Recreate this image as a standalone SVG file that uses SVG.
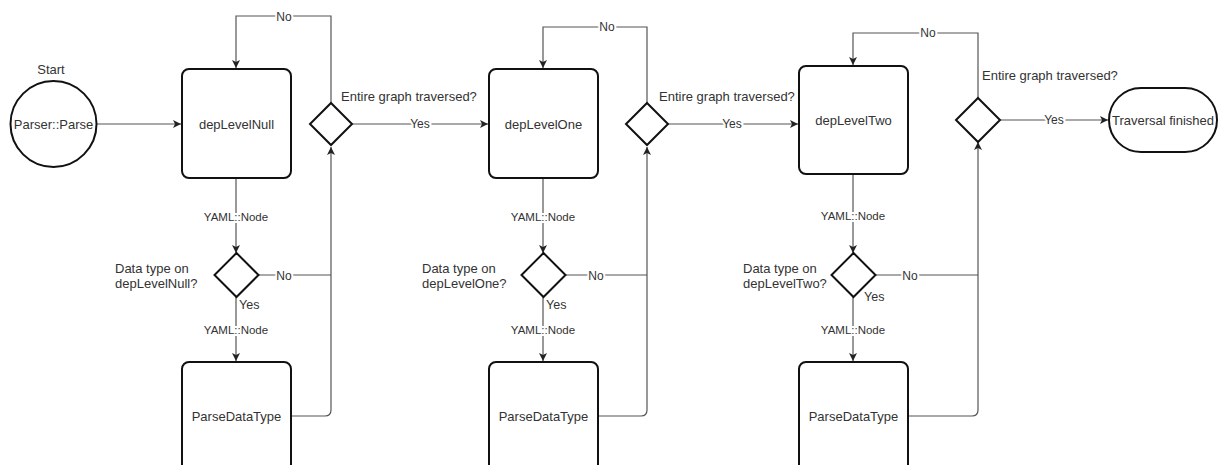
<svg xmlns="http://www.w3.org/2000/svg" width="1219" height="465" viewBox="0 0 1219 465">
<defs>
<marker id="arr" markerWidth="10" markerHeight="10" refX="9" refY="5" orient="auto" markerUnits="userSpaceOnUse">
<path d="M1,1 L9,5 L1,9 L3,5 Z" fill="#222"/>
</marker>
<style>
.shape{fill:#fff;stroke:#111;stroke-width:2}
.edge{fill:none;stroke:#555;stroke-width:1.2}
.t{font-family:"Liberation Sans",Arial,sans-serif;font-size:13px;fill:#333}
.c{text-anchor:middle}
.lbl{font-family:"Liberation Sans",Arial,sans-serif;font-size:12px;fill:#333;text-anchor:middle;paint-order:stroke;stroke:#fff;stroke-width:4px}
.small{font-family:"Liberation Sans",Arial,sans-serif;font-size:11.5px;fill:#333;text-anchor:middle;paint-order:stroke;stroke:#fff;stroke-width:4px}
</style>
</defs>
<rect width="1219" height="465" fill="#fff"/>

<g id="connectors">
<!-- column 1 -->
<path class="edge" d="M97,124 H181" marker-end="url(#arr)"/>
<path class="edge" d="M236,178 V253" marker-end="url(#arr)"/>
<path class="edge" d="M236,297 V361" marker-end="url(#arr)"/>
<path class="edge" d="M258,275 H331"/>
<path class="edge" d="M291,416 H325 Q331,416 331,410 V147" marker-end="url(#arr)"/>
<path class="edge" d="M331,103 V16 H236 V68" marker-end="url(#arr)"/>
<path class="edge" d="M352,124 H488" marker-end="url(#arr)"/>
<!-- column 2 -->
<path class="edge" d="M543,178 V253" marker-end="url(#arr)"/>
<path class="edge" d="M543,297 V361" marker-end="url(#arr)"/>
<path class="edge" d="M565,275 H647"/>
<path class="edge" d="M598,416 H641 Q647,416 647,410 V147" marker-end="url(#arr)"/>
<path class="edge" d="M647,103 V27 H543 V68" marker-end="url(#arr)"/>
<path class="edge" d="M668,124 H798" marker-end="url(#arr)"/>
<!-- column 3 -->
<path class="edge" d="M853,174 V253" marker-end="url(#arr)"/>
<path class="edge" d="M853,297 V361" marker-end="url(#arr)"/>
<path class="edge" d="M875,275 H978"/>
<path class="edge" d="M908,416 H972 Q978,416 978,410 V142" marker-end="url(#arr)"/>
<path class="edge" d="M978,98 V33 H853 V65" marker-end="url(#arr)"/>
<path class="edge" d="M1000,120 H1108" marker-end="url(#arr)"/>

<!-- edge labels -->
<text class="small" x="236" y="221">YAML::Node</text>
<text class="small" x="236" y="334">YAML::Node</text>
<text class="small" x="543" y="221">YAML::Node</text>
<text class="small" x="543" y="334">YAML::Node</text>
<text class="small" x="853" y="220">YAML::Node</text>
<text class="small" x="853" y="334">YAML::Node</text>
<text class="lbl" x="284" y="280">No</text>
<text class="lbl" x="596" y="280">No</text>
<text class="lbl" x="910" y="280">No</text>
<text class="lbl" x="284" y="21">No</text>
<text class="lbl" x="607" y="31">No</text>
<text class="lbl" x="928" y="37">No</text>
<text class="lbl" x="420" y="128">Yes</text>
<text class="lbl" x="732" y="128">Yes</text>
<text class="lbl" x="1054" y="124">Yes</text>
<text class="t" x="239" y="309" style="font-size:12.5px">Yes</text>
<text class="t" x="546" y="309" style="font-size:12.5px">Yes</text>
<text class="t" x="864" y="301" style="font-size:12.5px">Yes</text>
</g>

<g id="start">
<text class="t c" x="51" y="74">Start</text>
<circle class="shape" cx="53.5" cy="124" r="43"/>
<text class="t c" x="53.5" y="129">Parser::Parse</text>
</g>

<g id="depLevelNull">
<rect class="shape" x="182" y="69" width="109" height="109" rx="7"/>
<text class="t c" x="236.5" y="129">depLevelNull</text>
</g>
<g id="checkNull">
<path class="shape" d="M236.5,253 L258.5,275 L236.5,297 L214.5,275 Z"/>
<text class="t" x="115" y="273">Data type on</text>
<text class="t" x="115" y="288">depLevelNull?</text>
</g>
<g id="parseNull">
<rect class="shape" x="182" y="362" width="109" height="109" rx="7"/>
<text class="t c" x="236.5" y="421">ParseDataType</text>
</g>
<g id="traversedNull">
<path class="shape" d="M331,103 L352,124 L331,145 L310,124 Z"/>
<text class="t" x="341" y="101">Entire graph traversed?</text>
</g>

<g id="depLevelOne">
<rect class="shape" x="489" y="69" width="109" height="109" rx="7"/>
<text class="t c" x="543.5" y="129">depLevelOne</text>
</g>
<g id="checkOne">
<path class="shape" d="M543.5,253 L565.5,275 L543.5,297 L521.5,275 Z"/>
<text class="t" x="422" y="273">Data type on</text>
<text class="t" x="422" y="288">depLevelOne?</text>
</g>
<g id="parseOne">
<rect class="shape" x="489" y="362" width="109" height="109" rx="7"/>
<text class="t c" x="543.5" y="421">ParseDataType</text>
</g>
<g id="traversedOne">
<path class="shape" d="M647,103 L668,124 L647,145 L626,124 Z"/>
<text class="t" x="659" y="101">Entire graph traversed?</text>
</g>

<g id="depLevelTwo">
<rect class="shape" x="799" y="66" width="109" height="108" rx="7"/>
<text class="t c" x="853.5" y="125">depLevelTwo</text>
</g>
<g id="checkTwo">
<path class="shape" d="M853.5,253 L875.5,275 L853.5,297 L831.5,275 Z"/>
<text class="t" x="743" y="273">Data type on</text>
<text class="t" x="743" y="288">depLevelTwo?</text>
</g>
<g id="parseTwo">
<rect class="shape" x="799" y="362" width="109" height="109" rx="7"/>
<text class="t c" x="853.5" y="421">ParseDataType</text>
</g>
<g id="traversedTwo">
<path class="shape" d="M978,98 L1000,120 L978,142 L956,120 Z"/>
<text class="t" x="982" y="80">Entire graph traversed?</text>
</g>

<g id="finished">
<rect class="shape" x="1109" y="88" width="108" height="64" rx="32" ry="32"/>
<text class="t c" x="1163" y="125">Traversal finished</text>
</g>
</svg>
